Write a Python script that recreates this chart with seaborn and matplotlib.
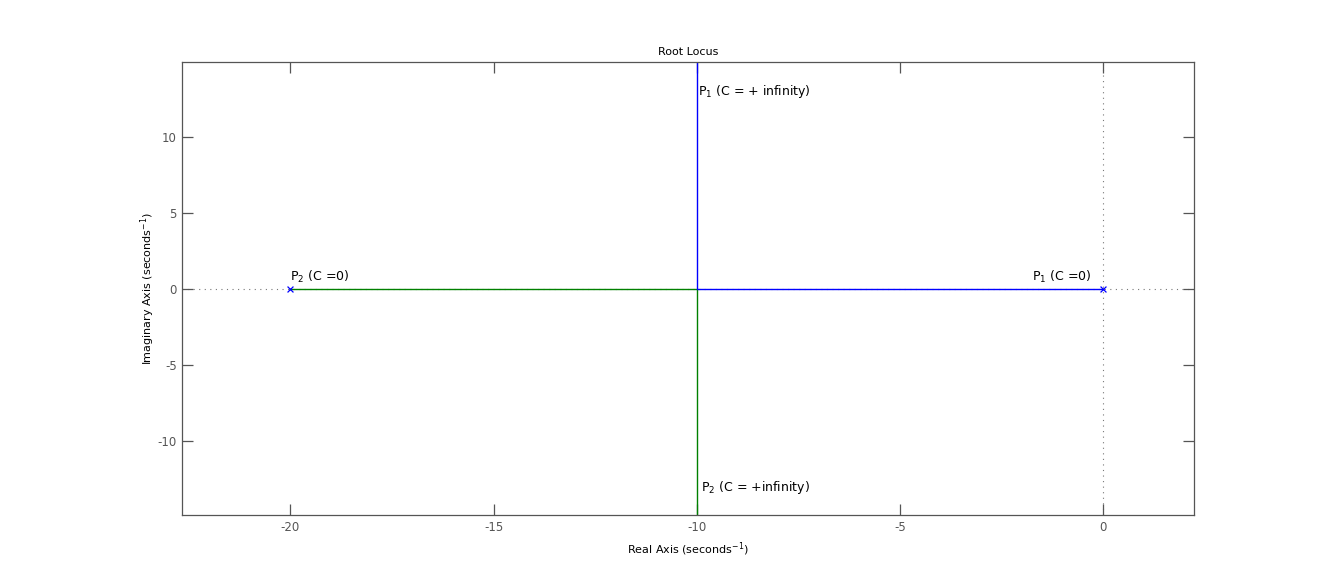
import numpy as np
import pandas as pd
import seaborn as sns
import matplotlib.pyplot as plt

# root locus branches (real part, imaginary part)
branch1_re = [0, -10, -10]
branch1_im = [0, 0, 20]
branch2_re = [-20, -10, -10]
branch2_im = [0, 0, -20]

# open loop poles
pole_re = [-20, 0]
pole_im = [0, 0]

xticks = [-20, -15, -10, -5, 0]
yticks = [-10, -5, 0, 5, 10]

sns.set_style("ticks")
plt.rcParams['font.family'] = ['DejaVu Sans']
plt.rcParams['mathtext.fontset'] = 'dejavusans'
plt.rcParams['text.color'] = 'black'
plt.rcParams['axes.labelcolor'] = 'black'

fig = plt.figure(figsize=(13.19, 5.79), dpi=100)
ax = fig.add_axes([0.1382, 0.1105, 0.7673, 0.7819])

b1 = pd.DataFrame({'re': branch1_re, 'im': branch1_im})
b2 = pd.DataFrame({'re': branch2_re, 'im': branch2_im})
poles = pd.DataFrame({'re': pole_re, 'im': pole_im})

ax.axhline(0, color='#777777', lw=0.8, ls=(0, (1, 4)), zorder=0)
ax.axvline(0, color='#777777', lw=0.8, ls=(0, (1, 4)), zorder=0)

sns.lineplot(data=b2, x='re', y='im', sort=False, estimator=None,
             color='#008000', lw=1.0, ax=ax)
sns.lineplot(data=b1, x='re', y='im', sort=False, estimator=None,
             color='#0000ff', lw=1.0, ax=ax)
sns.scatterplot(data=poles, x='re', y='im', marker='x', color='#0000ff',
                s=18, linewidth=0.9, ax=ax, zorder=5)

ax.set_xlim(-22.66, 2.24)
ax.set_ylim(-14.9, 14.95)
ax.set_xticks(xticks)
ax.set_yticks(yticks)
ax.set_xticklabels([str(t) for t in xticks])
ax.set_yticklabels([str(t) for t in yticks])

for s in ax.spines.values():
    s.set_visible(True)
    s.set_color('#555555')
    s.set_linewidth(0.9)
ax.tick_params(direction='in', length=8, width=0.9, color='#555555',
               labelcolor='#555555', labelsize=8.5, top=True, right=True, pad=4)

ax.set_title('Root Locus', fontsize=8, pad=5)
ax.set_xlabel(r'Real Axis (seconds$^{-1}$)', fontsize=8, labelpad=5)
ax.set_ylabel(r'Imaginary Axis (seconds$^{-1}$)', fontsize=8, labelpad=0)

ax.text(-9.97, 13.0, r'P$_1$ (C = + infinity)', fontsize=9, va='center')
ax.text(-9.9, -13.1, r'P$_2$ (C = +infinity)', fontsize=9, va='center')
ax.text(-20.0, 0.8, r'P$_2$ (C =0)', fontsize=9, va='center')
ax.text(-1.75, 0.8, r'P$_1$ (C =0)', fontsize=9, va='center')

fig.savefig('out.png', dpi=100)
